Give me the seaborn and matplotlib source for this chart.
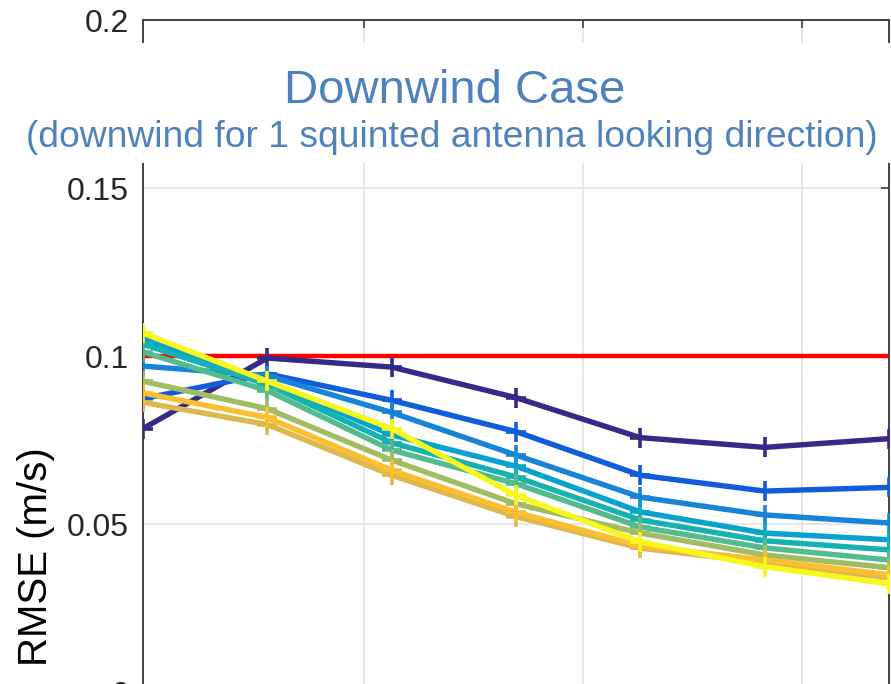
import matplotlib
matplotlib.use("Agg")
import matplotlib.pyplot as plt
from matplotlib.patches import Rectangle
from matplotlib.ticker import FixedLocator, FixedFormatter, NullFormatter
import pandas as pd
import seaborn as sns

# Sample positions (evenly spaced) and the grid positions along x
positions = [0, 1, 2, 3, 4, 5, 6]
x_grid = [1.778, 3.539, 5.300]

# RMSE (m/s) for each configuration, ordered from the first to the last colour
rmse_c1 = [0.0784, 0.0994, 0.0967, 0.0876, 0.0757, 0.0728, 0.0754]
rmse_c2 = [0.0873, 0.0947, 0.0868, 0.0775, 0.0645, 0.0598, 0.0609]
rmse_c3 = [0.0970, 0.0941, 0.0832, 0.0705, 0.0580, 0.0527, 0.0503]
rmse_c4 = [0.1050, 0.0925, 0.0765, 0.0672, 0.0536, 0.0473, 0.0453]
rmse_c5 = [0.1035, 0.0915, 0.0742, 0.0640, 0.0512, 0.0450, 0.0423]
rmse_c6 = [0.1012, 0.0897, 0.0720, 0.0620, 0.0491, 0.0429, 0.0393]
rmse_c7 = [0.0925, 0.0843, 0.0690, 0.0560, 0.0473, 0.0408, 0.0370]
rmse_c8 = [0.0862, 0.0796, 0.0645, 0.0522, 0.0428, 0.0385, 0.0340]
rmse_c9 = [0.0890, 0.0817, 0.0660, 0.0535, 0.0435, 0.0393, 0.0349]
rmse_c10 = [0.1068, 0.0925, 0.0784, 0.0585, 0.0447, 0.0373, 0.0322]

series = [rmse_c1, rmse_c2, rmse_c3, rmse_c4, rmse_c5,
          rmse_c6, rmse_c7, rmse_c8, rmse_c9, rmse_c10]
series_names = [f"config {i + 1}" for i in range(len(series))]
colors = ["#352a87", "#0f5cdd", "#1884d8", "#08a2d0", "#16b1b2",
          "#52bc8e", "#a2bc62", "#dcb84e", "#fbbf30", "#f8f81c"]

requirement = 0.1

y_ticks = [0, 0.05, 0.1, 0.15, 0.2]
y_tick_labels = ["0", "0.05", "0.1", "0.15", "0.2"]

title = "Downwind Case"
subtitle = "(downwind for 1 squinted antenna looking direction)"
y_label = "RMSE (m/s)"

sns.set_theme(style="white")
plt.rcParams["font.family"] = ["Liberation Sans", "DejaVu Sans"]

W, H = 891, 684
fig = plt.figure(figsize=(W / 100, H / 100), dpi=100)

# axes placed in pixel terms: x from 143 to 889, y=0 at 692 and y=0.2 at 20
left, right, y0, y2 = 143, 889, 692, 20
ax = fig.add_axes([left / W, (H - y0) / H, (right - left) / W, (y0 - y2) / H])

df = pd.DataFrame({
    "position": positions * len(series),
    "rmse": [v for s in series for v in s],
    "config": [n for n in series_names for _ in positions],
})

ax.axhline(requirement, color="#ff0000", lw=3.2, zorder=2)

for i, (name, col) in enumerate(zip(series_names, colors)):
    sub = df[df["config"] == name]
    sns.lineplot(data=sub, x="position", y="rmse", ax=ax, color=col,
                 marker="+", markersize=15, markeredgewidth=2.6,
                 markeredgecolor=col, linewidth=3.9, sort=False,
                 legend=False, zorder=3 + i)

ax.set_xlim(positions[0], positions[-1])
ax.set_ylim(y_ticks[0], y_ticks[-1])

ax.xaxis.set_major_locator(FixedLocator(x_grid))
ax.xaxis.set_major_formatter(NullFormatter())
ax.yaxis.set_major_locator(FixedLocator(y_ticks))
ax.yaxis.set_major_formatter(FixedFormatter(y_tick_labels))

ax.set_axisbelow(True)
ax.grid(True, color="#e3e3e3", lw=1.2)
for sp in ax.spines.values():
    sp.set_visible(True)
    sp.set_color("#404040")
    sp.set_linewidth(1.4)

ax.tick_params(axis="both", direction="in", length=6, width=1.2,
               color="#404040", top=True, right=True,
               labelsize=23, labelcolor="#262626", pad=10)

ax.set_xlabel("")
ax.set_ylabel(y_label, fontsize=29, color="#000000", va="center")
ax.yaxis.set_label_coords((36 - left) / (right - left), (y0 - 557) / (y0 - y2))

# white title panel laid over the upper part of the axes
fig.add_artist(Rectangle((0, (H - 163) / H), 1, (163 - 43) / H,
                         transform=fig.transFigure, facecolor="white",
                         edgecolor="none", zorder=5))
fig.text(455 / W, 1 - 103 / H, title, ha="center", va="baseline",
         fontsize=34, color="#4f81bd", zorder=6)
fig.text(452 / W, 1 - 147 / H, subtitle, ha="center", va="baseline",
         fontsize=26.8, color="#4f81bd", zorder=6)

fig.savefig("out.png", dpi=100)
